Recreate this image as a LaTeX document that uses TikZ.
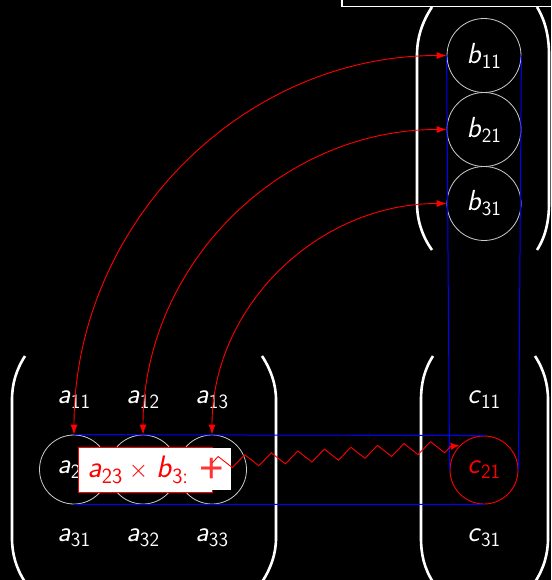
\documentclass[tikz,border=0pt]{standalone}
\usepackage{fontspec}
\newfontfamily\plusfont{Liberation Sans}
\usetikzlibrary{arrows.meta,decorations.pathmorphing}
\renewcommand\familydefault{\sfdefault}
\newcommand\ent[2]{\textit{#1}\textsubscript{#2}}
\begin{document}
\begin{tikzpicture}[x=1pt,y=-1pt,font=\fontsize{29}{35}\selectfont,
  ent/.style={text=white,inner sep=0pt},
  cir/.style={circle,draw=white!80!black,line width=0.8pt,inner sep=0pt},
  paren/.style={white,line width=2.6pt},
  link/.style={blue,line width=1pt},
  arr/.style={red,line width=0.9pt,{Latex[length=10pt,width=7pt]}-{Latex[length=10pt,width=7pt]}},
  zig/.style={red,line width=0.9pt,decorate,decoration={zigzag,segment length=26.6pt,amplitude=6pt,post length=8pt},-{Latex[length=9pt,width=7pt]}}]
\useasboundingbox (0,0) rectangle (551,580);
\fill[black] (0,0) rectangle (551,580);
% frame corner at top
\draw[white,line width=1.3pt] (342,-3) -- (342,6.5) -- (555,6.5);
% parentheses
\draw[paren] (25,356) .. controls (16,370) and (12,384) .. (12,400) -- (12,538) .. controls (12,554) and (16,568) .. (25,582);
\draw[paren] (262,356) .. controls (271,370) and (276,384) .. (276,400) -- (276,538) .. controls (276,554) and (271,568) .. (262,582);
\draw[paren] (433,356) .. controls (424,370) and (421,384) .. (421,400) -- (421,538) .. controls (421,554) and (424,568) .. (433,582);
\draw[paren] (535,356) .. controls (544,370) and (548,384) .. (548,400) -- (548,538) .. controls (548,554) and (544,568) .. (535,582);
\draw[paren] (432,7) .. controls (422,22) and (417,38) .. (417,55) -- (417,203) .. controls (417,220) and (422,236) .. (432,250);
\draw[paren] (537,7) .. controls (546,22) and (549,38) .. (549,55) -- (549,203) .. controls (549,220) and (546,236) .. (537,250);
% matrix A
\node[ent] (a11) at (74,400) {\ent{a}{11}};
\node[ent] (a12) at (143,400) {\ent{a}{12}};
\node[ent] (a13) at (212,400) {\ent{a}{13}};
\node[ent,cir,minimum size=69] (a21) at (74,469.5) {\ent{a}{21}};
\node[ent,cir,minimum size=69] (a22) at (143,469.5) {\ent{a}{22}};
\node[ent,cir,minimum size=69] (a23) at (212,469.5) {\ent{a}{23}};
\node[ent] (a31) at (74,538) {\ent{a}{31}};
\node[ent] (a32) at (143,538) {\ent{a}{32}};
\node[ent] (a33) at (212,538) {\ent{a}{33}};
% matrix B
\node[ent,cir,minimum size=74] (b11) at (484,55.5) {\ent{b}{11}};
\node[ent,cir,minimum size=74] (b21) at (484,129.5) {\ent{b}{21}};
\node[ent,cir,minimum size=74] (b31) at (484,203.5) {\ent{b}{31}};
% matrix C
\node[ent] (c11) at (484,400) {\ent{c}{11}};
\node[circle,draw=red,line width=0.9pt,inner sep=0pt,text=red,minimum size=68] (c21) at (484,470) {\ent{c}{21}};
\node[ent] (c31) at (484,538) {\ent{c}{31}};
% blue guides
\draw[link] (b11.west) -- (c21.west);
\draw[link] (b11.east) -- (c21.east);
\draw[link] (a21.north) -- (c21.north);
\draw[link] (a21.south) -- (c21.south);
% red arrows
\draw[arr] (a21.north) to[out=90,in=180] (b11.west);
\draw[arr] (a22.north) to[out=90,in=180] (b21.west);
\draw[arr] (a23.north) to[out=90,in=180] (b31.west);
% product box
\node[draw=red,fill=white,line width=0.9pt,text=red,anchor=north west,
      minimum width=133,minimum height=45,text width=116,align=left,inner xsep=9pt,
      font=\fontsize{31}{36}\selectfont] (prod) at (78,447)
      {\ent{a}{23}\hspace{6pt}$\times$\hspace{8pt}\ent{b}{3:}};
\node[fill=white,anchor=north west,minimum width=19,minimum height=42,inner sep=0pt] (pbg) at (211.5,448) {};
\node[text=red!80,inner sep=0pt,font=\fontsize{42}{46}\plusfont] (plus) at (211.5,470) {+};
% zigzag to c21
\coordinate (zs) at (212,463);
\draw[zig] (zs) -- (c21.135);
\end{tikzpicture}
\end{document}
